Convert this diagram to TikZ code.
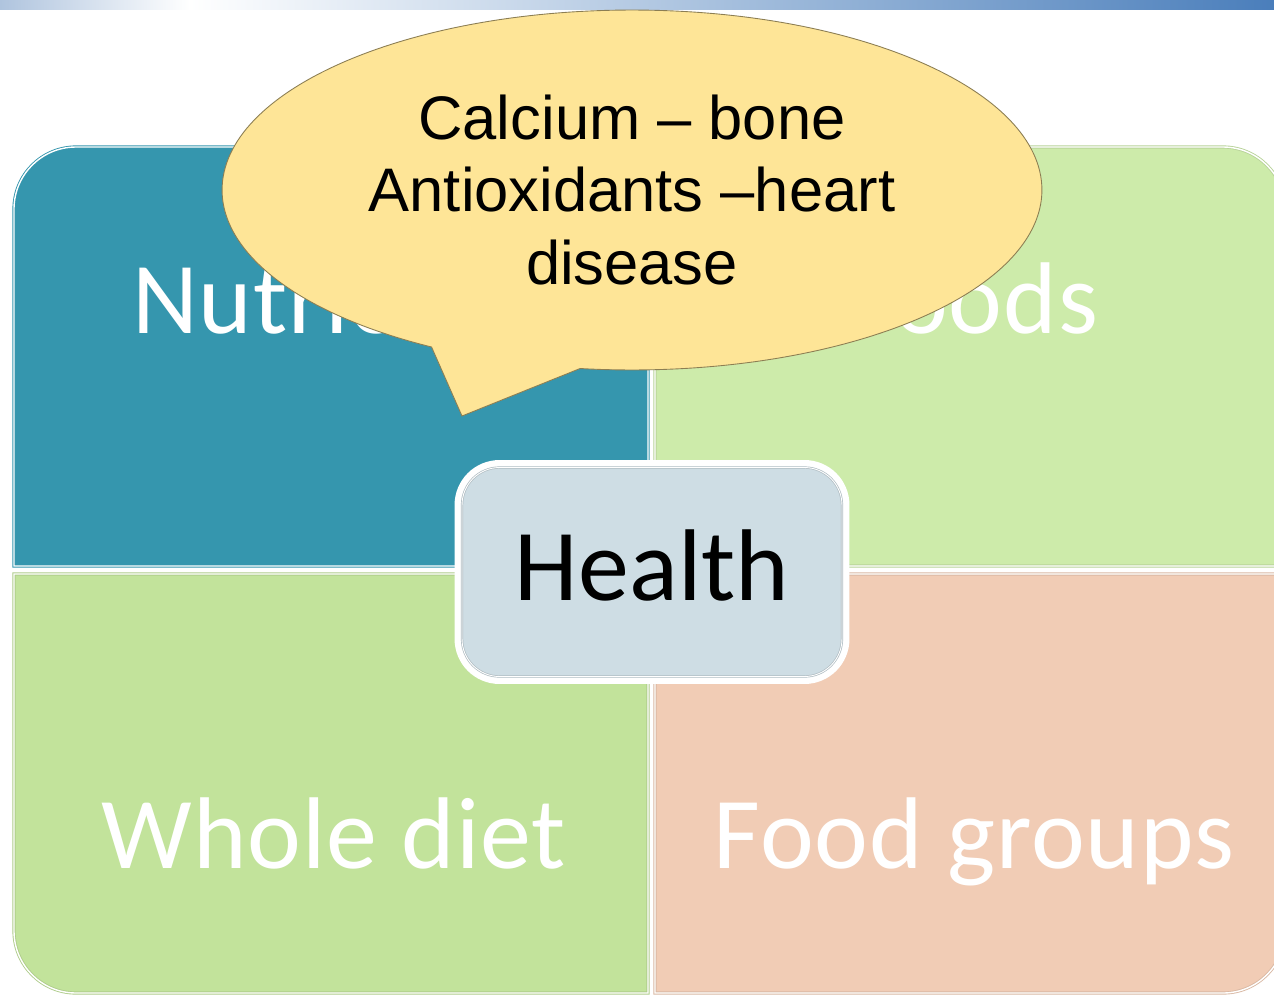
\documentclass[tikz,border=0pt]{standalone}
\usepackage{fontspec}
\newfontfamily\calibri{Carlito}
\newfontfamily\calibriwide[LetterSpace=1.0]{Carlito}
\newfontfamily\arial{Liberation Sans}
\usetikzlibrary{shapes.callouts}
\definecolor{nutrc}{HTML}{3596AE}
\definecolor{foodsc}{HTML}{CDEBAA}
\definecolor{wholec}{HTML}{C2E39B}
\definecolor{groupc}{HTML}{F1CCB5}
\definecolor{healthc}{HTML}{CEDDE4}
\definecolor{bubblec}{HTML}{FEE597}
\definecolor{barc}{HTML}{4A7EBB}
\definecolor{barlightc}{HTML}{AFC4DE}

\begin{document}
\begin{tikzpicture}[
  x=0.02cm, y=-0.02cm,
  quad/.style={line width=0.5pt, double=white, double distance=0.8pt},
  lbl/.style={font=\calibriwide\fontsize{58}{60}\selectfont, text=white, anchor=base, inner sep=0pt},
  bubble/.style={ellipse callout, fill=bubblec, draw=bubblec!55!black, line width=0.5pt,
    minimum width=16.4cm, minimum height=7.2cm, inner sep=0pt, align=center,
    font=\arial\fontsize{35}{41.5}\selectfont, text=black},
  rim/.style={fill=white, rounded corners=0.9cm, minimum width=7.9cm, minimum height=4.48cm},
  hub/.style={fill=healthc, draw=healthc!85!black, line width=0.4pt, double=white,
    double distance=0.5pt, rounded corners=0.75cm, minimum width=7.6cm, minimum height=4.18cm,
    text height=1.12cm, text depth=0pt,
    font=\calibri\fontsize{58}{60}\selectfont, text=black}
]
  \clip (0,0) rectangle (1274,994);
  \fill[white] (0,0) rectangle (1274,994);

  % top bar
  \shade[left color=barlightc, right color=white] (0,0) rectangle (190,9);
  \shade[left color=white, right color=barc] (190,0) rectangle (1274,9);

  % quadrants
  \draw[quad, draw=nutrc, fill=nutrc] (648,566) -- (14,566) -- (14,209)
    arc[start angle=180, end angle=270, radius=62] -- (648,147) -- cycle;
  \draw[quad, draw=foodsc!90!black, fill=foodsc] (655,147) -- (1223,147)
    arc[start angle=270, end angle=360, radius=62] -- (1285,566) -- (655,566) -- cycle;
  \draw[quad, draw=wholec!90!black, fill=wholec] (14,574) -- (648,574) -- (648,993) -- (76,993)
    arc[start angle=90, end angle=180, radius=62] -- cycle;
  \draw[quad, draw=groupc!90!black, fill=groupc] (655,574) -- (1285,574) -- (1285,931)
    arc[start angle=0, end angle=90, radius=62] -- (655,993) -- cycle;

  \node[lbl] (nutr)   at (331,333) {Nutrients};
  \node[lbl] (foods)  at (973,333) {Foods};
  \node[lbl] (whole)  at (334,868) {Whole diet};
  \node[lbl] (groups) at (974,868) {Food groups};

  % centre
  \node[rim] (hubrim) at (652,572) {};
  \node[hub] (health) at (652,572) {Health};

  % callout
  \node[bubble, callout absolute pointer={(462,416)}, callout pointer arc=22] (note) at (632,190)
    {Calcium – bone\\Antioxidants –heart\\disease};
\end{tikzpicture}
\end{document}
